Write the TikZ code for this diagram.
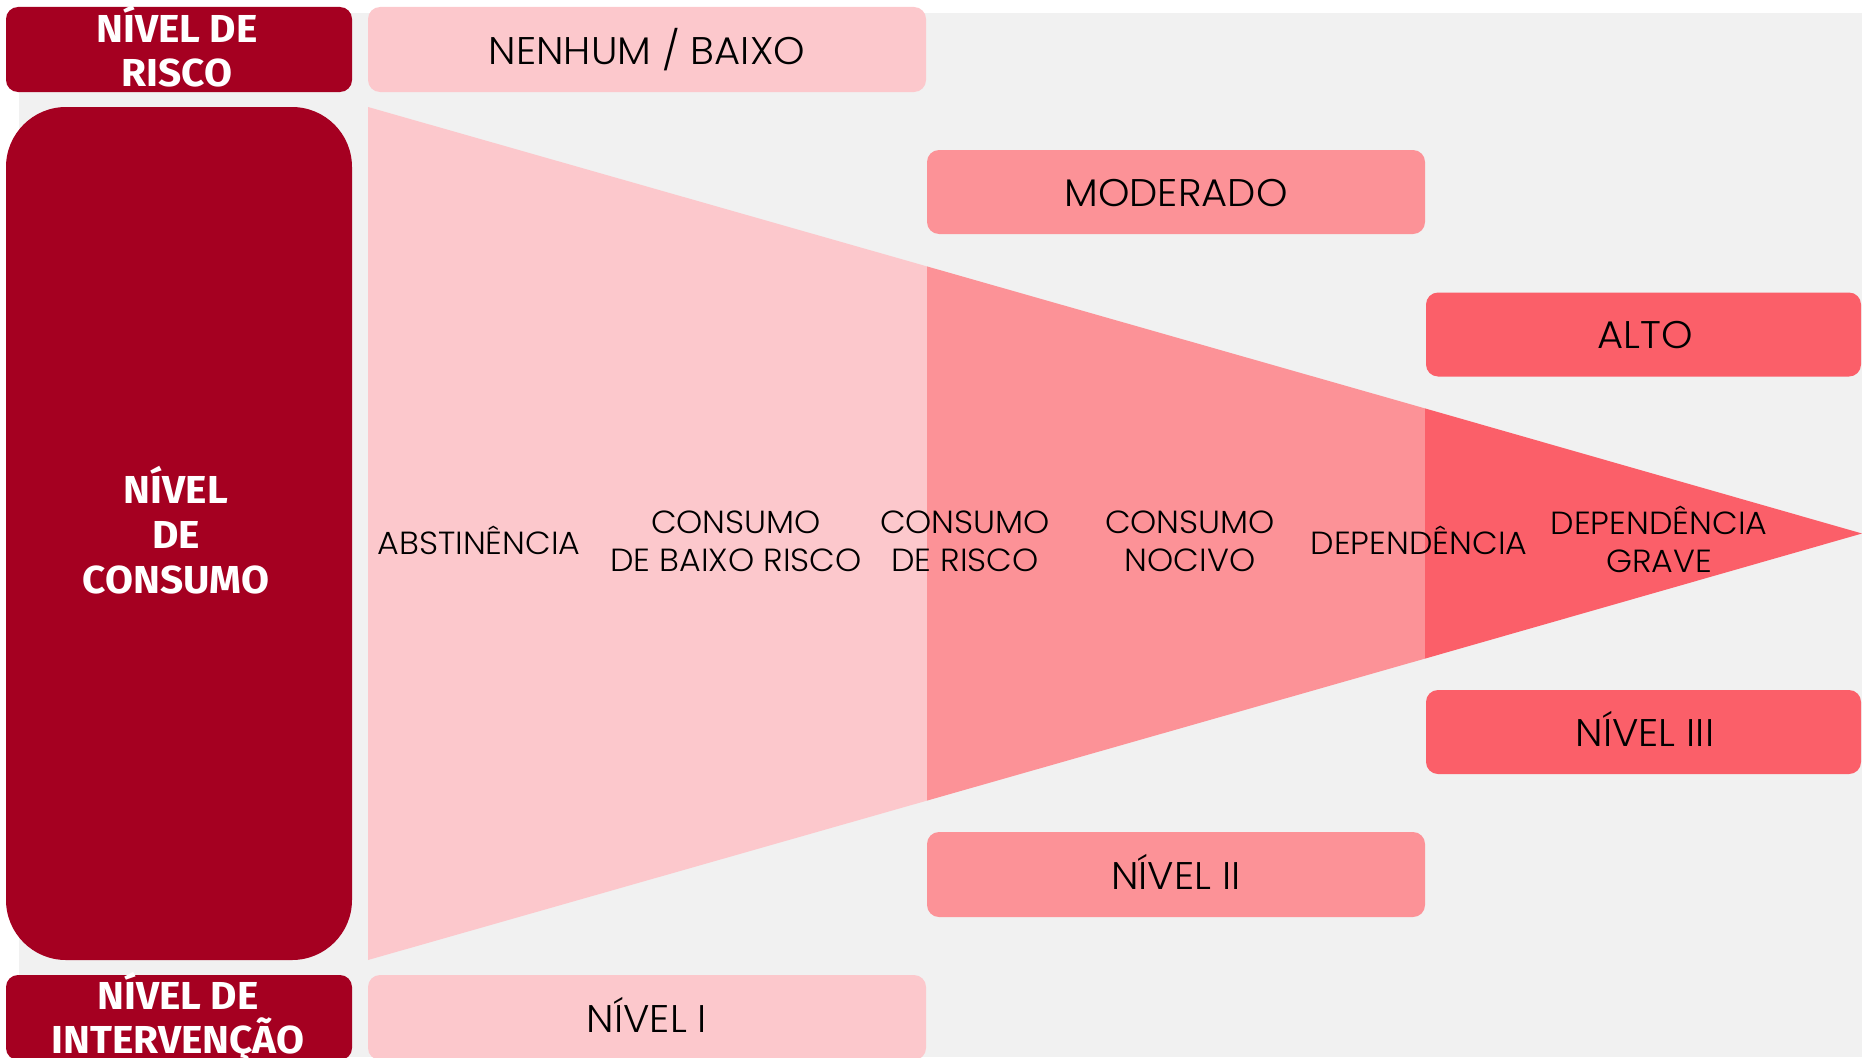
\documentclass[tikz,border=0pt]{standalone}
\usepackage{fontspec}
\setmainfont{Poppins}
\newfontfamily\labfont[FakeStretch=1.04]{Poppins Light}
\newfontfamily\triafont[FakeStretch=1.04]{Poppins Light}
\newfontfamily\headfont[FakeStretch=1.04]{Fira Sans}
\definecolor{bggray}{HTML}{F1F1F1}
\definecolor{darkred}{HTML}{A50021}
\definecolor{pinkA}{HTML}{FCC8CC}
\definecolor{pinkB}{HTML}{FC9297}
\definecolor{pinkC}{HTML}{FB5F69}
\tikzset{
  box/.style={rounded corners=12pt, inner sep=0pt},
  boxtext/.style={text=black, inner sep=0pt,
    font=\labfont\fontsize{38.5}{44}\selectfont},
  headbox/.style={rounded corners=12pt, fill=darkred, inner sep=0pt},
  headtext/.style={text=white, align=center, inner sep=0pt,
    font=\headfont\bfseries\fontsize{39}{44}\selectfont},
  tritext/.style={text=black, align=center, inner sep=0pt,
    font=\triafont\fontsize{32}{38}\selectfont}
}
\begin{document}
\begin{tikzpicture}[x=1pt,y=-1pt]
\useasboundingbox (0,0) rectangle (1862,1057);
\begin{scope}
\clip (0,0) rectangle (1862,1057);
\fill[bggray] (19,13) rectangle (1862,1057);
% triangle segments
\fill[pinkA] (368,107) -- (927,266.4) -- (927,800.6) -- (368,960) -- cycle;
\fill[pinkB] (927,266.4) -- (1425,408.4) -- (1425,658.6) -- (927,800.6) -- cycle;
\fill[pinkC] (1425,408.4) -- (1862,533.5) -- (1425,658.6) -- cycle;
% header boxes
\node[headbox, minimum width=346pt, minimum height=85pt] (riskbox) at (179,49.5) {};
\node[headtext] (risktxt) at (177,46.5) {NÍVEL DE\\RISCO};
\node[headbox, rounded corners=60pt, minimum width=346pt, minimum height=853pt] (consbox) at (179,533.5) {};
\node[headtext, font=\headfont\bfseries\fontsize{39}{45}\selectfont] (constxt) at (176,530.5) {NÍVEL\\DE\\CONSUMO};
\node[headbox, minimum width=346pt, minimum height=85pt] (intbox) at (179,1017.5) {};
\node[headtext] (inttxt) at (178,1017.5) {NÍVEL DE\\INTERVENÇÃO};
% risk level boxes
\node[box, fill=pinkA, minimum width=558pt, minimum height=85pt] (nenhum) at (647,49.5) {};
\node[boxtext] (nenhumt) at (647,50) {NENHUM / BAIXO};
\node[box, fill=pinkB, minimum width=498pt, minimum height=84pt] (moderado) at (1176,192) {};
\node[boxtext] (moderadot) at (1176,193) {MODERADO};
\node[box, fill=pinkC, minimum width=435pt, minimum height=84pt] (alto) at (1643.5,334.5) {};
\node[boxtext] (altot) at (1645,335.5) {ALTO};
% intervention boxes
\node[box, fill=pinkC, minimum width=435pt, minimum height=84pt] (nivel3) at (1643.5,732) {};
\node[boxtext] (nivel3t) at (1645,729) {NÍVEL III};
\node[box, fill=pinkB, minimum width=498pt, minimum height=85pt] (nivel2) at (1176,874.5) {};
\node[boxtext] (nivel2t) at (1176,871.5) {NÍVEL II};
\node[box, fill=pinkA, minimum width=558pt, minimum height=85pt] (nivel1) at (647,1017.5) {};
\node[boxtext] (nivel1t) at (647,1014.5) {NÍVEL I};
% consumption labels
\node[tritext] (abst) at (479,540) {ABSTINÊNCIA};
\node[tritext] (baixo) at (736,541) {CONSUMO\\DE BAIXO RISCO};
\node[tritext] (risco) at (965,541) {CONSUMO\\DE RISCO};
\node[tritext] (nocivo) at (1190,541) {CONSUMO\\NOCIVO};
\node[tritext] (dep) at (1419,540) {DEPENDÊNCIA};
\node[tritext] (grave) at (1659,539) {DEPENDÊNCIA\\GRAVE};
\end{scope}
\end{tikzpicture}
\end{document}
